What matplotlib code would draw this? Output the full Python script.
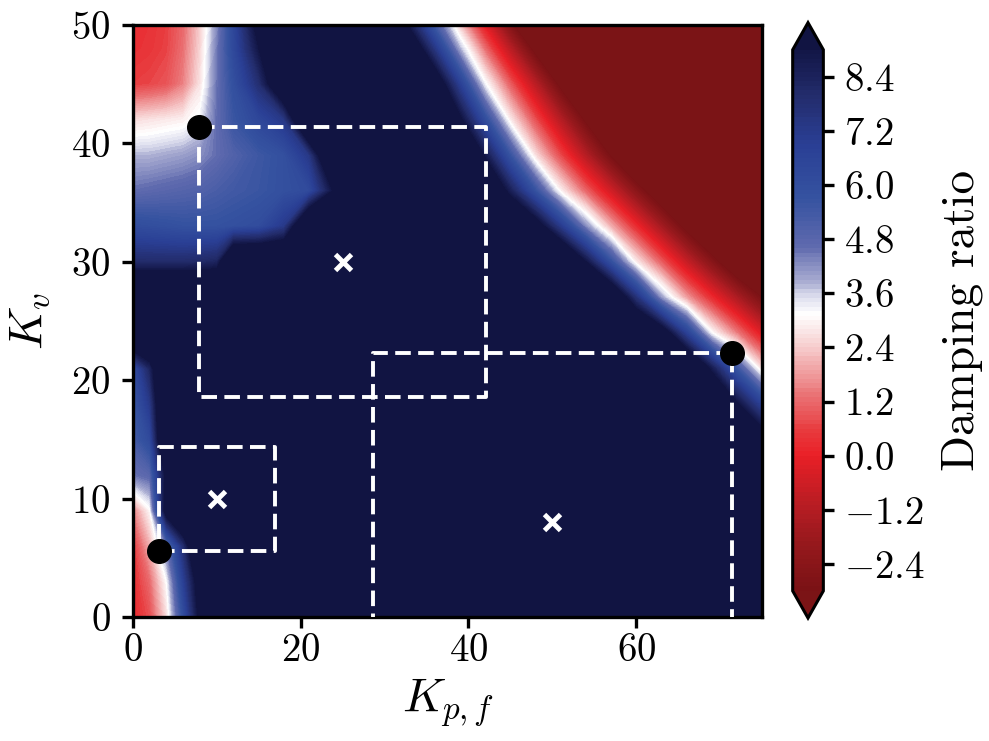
import numpy as np
import matplotlib
matplotlib.use("Agg")
import matplotlib.pyplot as plt
from matplotlib.colors import LinearSegmentedColormap

plt.rcParams['font.family'] = 'cmr10'
plt.rcParams['mathtext.fontset'] = 'cm'
plt.rcParams['axes.formatter.use_mathtext'] = True

# grid of the gain sweep
kp = [0, 2, 4, 6, 8, 10, 12, 15, 18, 21, 24, 27, 30, 33, 36, 39, 42, 45, 48, 51, 54, 57, 60, 63, 66, 69, 72, 75]
kv = [0, 3, 6, 9, 12, 15, 18, 21, 24, 27, 30, 33, 36, 39, 42, 45, 48, 50]

# damping ratio (rows follow kv, columns follow kp)
damping = [
    [0.2, 0.8, 2.6, 6.0, 9.5, 12, 12, 12, 12, 12, 12, 12, 12, 12, 12, 12, 12, 12, 12, 12, 12, 12, 12, 12, 12, 12, 12, 12],
    [0.3, 1.2, 3.1, 6.8, 10, 12, 12, 12, 12, 12, 12, 12, 12, 12, 12, 12, 12, 12, 12, 12, 12, 12, 12, 12, 12, 12, 12, 12],
    [0.5, 2.0, 4.5, 7.8, 12, 12, 12, 12, 12, 12, 12, 12, 12, 12, 12, 12, 12, 12, 12, 12, 12, 12, 12, 12, 12, 12, 12, 12],
    [1.5, 3.0, 10, 12, 12, 12, 12, 12, 12, 12, 12, 12, 12, 12, 12, 12, 12, 12, 12, 12, 12, 12, 12, 12, 12, 12, 12, 12],
    [4.5, 4.8, 9.5, 12, 12, 12, 12, 12, 12, 12, 12, 12, 12, 12, 12, 12, 12, 12, 12, 12, 12, 12, 12, 12, 12, 12, 12, 12],
    [5.3, 6.2, 12, 12, 12, 12, 12, 12, 12, 12, 12, 12, 12, 12, 12, 12, 12, 12, 12, 12, 12, 12, 12, 12, 12, 12, 12, 10.1],
    [5.6, 7.2, 12, 12, 12, 12, 12, 12, 12, 12, 12, 12, 12, 12, 12, 12, 12, 12, 12, 12, 12, 12, 12, 12, 12, 11.6, 9.2, 6.7],
    [6.0, 8.3, 12, 12, 12, 12, 12, 12, 12, 12, 12, 12, 12, 12, 12, 12, 12, 12, 12, 12, 12, 12, 12, 12, 11.9, 8.7, 5.5, 2.6],
    [12, 12, 12, 12, 12, 12, 12, 12, 12, 12, 12, 12, 12, 12, 12, 12, 12, 12, 12, 12, 12, 12, 12, 10.2, 6.7, 3.1, 1.4, -0.3],
    [12, 12, 12, 12, 12, 12, 12, 12, 12, 12, 12, 12, 12, 12, 12, 12, 12, 12, 12, 12, 12, 11.2, 7.6, 4.0, 1.8, 0.2, -1.4, -3.0],
    [8.0, 8.0, 8.0, 8.0, 8.1, 8.3, 12, 12, 12, 12, 12, 12, 12, 12, 12, 12, 12, 12, 12, 12, 9.0, 5.8, 2.8, 1.0, -0.8, -2.5, -4.3, -6],
    [6.1, 6.0, 5.9, 5.8, 5.8, 5.8, 5.9, 6.1, 7.2, 12, 12, 12, 12, 12, 12, 12, 12, 12, 10.0, 7.1, 4.2, 2.0, 0.2, -1.6, -3.4, -5.1, -6, -6],
    [4.6, 4.7, 4.8, 4.9, 5.0, 5.2, 5.4, 5.6, 5.9, 6.2, 9.2, 12, 12, 12, 12, 12, 11.4, 8.5, 5.7, 2.9, 1.1, -0.6, -2.4, -4.1, -5.9, -6, -6, -6],
    [3.8, 3.8, 3.9, 4.0, 4.2, 4.6, 5.0, 5.5, 5.9, 7.3, 12, 12, 12, 12, 12, 12, 8.8, 5.6, 2.6, 0.7, -1.2, -3.1, -5.0, -6, -6, -6, -6, -6],
    [2.6, 2.7, 2.8, 2.9, 3.3, 4.6, 5.6, 6.4, 7.3, 12, 12, 12, 12, 12, 12, 9.3, 6.0, 2.8, 0.8, -1.2, -3.2, -5.2, -6, -6, -6, -6, -6, -6],
    [0.6, 0.7, 0.9, 1.5, 2.7, 4.5, 5.9, 7.8, 11, 12, 12, 12, 12, 12, 10.4, 6.8, 3.2, 1.0, -1.1, -3.3, -5.4, -6, -6, -6, -6, -6, -6, -6],
    [0.35, 0.45, 0.65, 1.3, 2.5, 4.4, 6.3, 9.0, 12, 12, 12, 12, 12, 10.7, 7.3, 3.8, 1.2, -1.1, -3.4, -5.7, -6, -6, -6, -6, -6, -6, -6, -6],
    [0.3, 0.4, 0.6, 1.2, 2.4, 4.2, 6.4, 9.7, 12, 12, 12, 12, 12, 8.7, 5.3, 2.3, -0.2, -2.7, -5.1, -6, -6, -6, -6, -6, -6, -6, -6, -6],
]

cbar_ticks = [-2.4, -1.2, 0.0, 1.2, 2.4, 3.6, 4.8, 6.0, 7.2, 8.4]

# design points (crosses) and the corner gains (dots) of each box
centre_kp = [25, 10, 50]
centre_kv = [30, 10, 8]
corner_kp = [7.9, 3.1, 71.4]
corner_kv = [41.4, 5.6, 22.3]

# colour scale sampled from the colour bar
cmap_vals = [-3.0, -2.0, -1.3, -0.55, 0.0, 0.57, 1.3, 2.05, 2.8, 3.15, 3.5, 3.9, 4.65, 5.75, 6.9, 8.0, 9.0]
cmap_cols = ['#7a1215', '#95181c', '#b01c22', '#d01e25', '#ea1f26', '#e83c3f', '#ea7073', '#f2b0b1',
             '#fbeaea', '#ffffff', '#dedfee', '#a6a9d0', '#5f6aae', '#3552a0', '#2a3f95', '#232c6c', '#121646']
vmin, vmax = -3.0, 9.0
cmap = LinearSegmentedColormap.from_list(
    'damp', [((v - vmin) / (vmax - vmin), c) for v, c in zip(cmap_vals, cmap_cols)])
cmap.set_over('#111442')
cmap.set_under('#7b1416')

fig = plt.figure(figsize=(9.89, 7.41), dpi=100)
ax = fig.add_axes([0.1345, 0.1673, 0.636, 0.799])
cax = fig.add_axes([0.8015, 0.166, 0.031, 0.8034])

cs = ax.contourf(kp, kv, np.array(damping), levels=np.linspace(vmin, vmax, 121),
                 cmap=cmap, extend='both')

# dashed boxes: from the dot corner, mirrored through the cross
for cx, cy, px, py in zip(centre_kp, centre_kv, corner_kp, corner_kv):
    qx, qy = 2 * cx - px, 2 * cy - py
    ax.plot([px, qx, qx, px, px], [py, py, qy, qy, py], color='white', lw=2.8,
            linestyle=(0, (4, 1.9)), zorder=3)
ax.plot(centre_kp, centre_kv, 'x', color='white', ms=11, mew=3.5, zorder=4)
ax.plot(corner_kp, corner_kv, 'o', color='black', ms=17, zorder=5, clip_on=False)

ax.set_xlim(0, 75)
ax.set_ylim(0, 50)
ax.set_xticks([0, 20, 40, 60])
ax.set_yticks([0, 10, 20, 30, 40, 50])
ax.set_xlabel('$K_{p,f}$', fontsize=34, labelpad=6)
ax.set_ylabel('$K_v$', fontsize=34, labelpad=14)
ax.tick_params(labelsize=28, length=8, width=2.4)
ax.tick_params(axis='y', pad=8)
for s in ax.spines.values():
    s.set_linewidth(2.4)

cb = fig.colorbar(cs, cax=cax, ticks=cbar_ticks)
cb.outline.set_linewidth(2.2)
cb.ax.tick_params(labelsize=28, length=8, width=2.4, pad=7)
cb.set_label('Damping ratio', fontsize=34, labelpad=12)

fig.savefig('out.png', dpi=100)
